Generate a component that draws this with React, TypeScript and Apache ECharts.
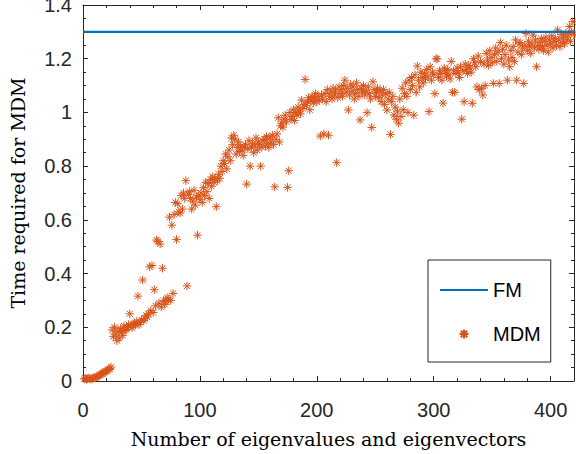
import React, { useEffect, useRef } from "react";
import * as echarts from "echarts";

const xTicks = [0, 100, 200, 300, 400];
const fmLevel = 1.3;
const fmRange = [0, 420];

// MDM timing, one value per number of eigenpairs (1..420)
const mdmTimes: number[] = [
  0.008, 0.010, 0.006, 0.009, 0.011, 0.007, 0.010, 0.008, 0.012, 0.011,
  0.014, 0.016, 0.019, 0.021, 0.024, 0.027, 0.029, 0.032, 0.035, 0.037,
  0.040, 0.043, 0.046, 0.052, 0.190, 0.165, 0.200, 0.175, 0.150, 0.185,
  0.160, 0.195, 0.180, 0.170, 0.205, 0.188, 0.192, 0.200, 0.210, 0.250,
  0.205, 0.198, 0.212, 0.215, 0.208, 0.222, 0.316, 0.210, 0.218, 0.228,
  0.376, 0.225, 0.232, 0.245, 0.238, 0.250, 0.425, 0.262, 0.430, 0.255,
  0.340, 0.280, 0.525, 0.520, 0.290, 0.510, 0.275, 0.420, 0.300, 0.285,
  0.295, 0.310, 0.305, 0.610, 0.300, 0.580, 0.326, 0.620, 0.665, 0.527,
  0.660, 0.630, 0.625, 0.690, 0.640, 0.700, 0.680, 0.746, 0.354, 0.695,
  0.705, 0.680, 0.640, 0.670, 0.710, 0.655, 0.685, 0.543, 0.690, 0.675,
  0.700, 0.665, 0.720, 0.690, 0.740, 0.705, 0.735, 0.680, 0.750, 0.725,
  0.760, 0.740, 0.755, 0.649, 0.745, 0.770, 0.755, 0.800, 0.780, 0.820,
  0.810, 0.845, 0.790, 0.835, 0.860, 0.820, 0.905, 0.880, 0.915, 0.900,
  0.845, 0.870, 0.890, 0.855, 0.875, 0.860, 0.840, 0.870, 0.880, 0.733,
  0.865, 0.895, 0.800, 0.870, 0.885, 0.850, 0.875, 0.905, 0.860, 0.890,
  0.880, 0.800, 0.870, 0.895, 0.900, 0.875, 0.910, 0.885, 0.870, 0.905,
  0.890, 0.915, 0.880, 0.723, 0.900, 0.920, 0.980, 0.890, 0.950, 0.960,
  0.945, 0.975, 0.990, 0.965, 0.721, 0.783, 1.000, 0.975, 0.985, 1.010,
  0.970, 1.000, 0.990, 1.020, 1.005, 0.995, 1.046, 1.015, 1.030, 1.123,
  1.025, 1.040, 1.055, 1.010, 1.045, 1.060, 1.035, 1.050, 1.070, 1.040,
  1.060, 1.045, 0.912, 1.065, 1.050, 0.920, 1.070, 1.040, 1.085, 0.915,
  1.060, 1.075, 1.050, 1.090, 1.065, 1.080, 0.813, 1.055, 1.095, 1.070,
  1.085, 1.060, 1.100, 1.120, 1.075, 1.090, 1.009, 1.065, 1.105, 1.080,
  1.095, 1.050, 1.070, 1.110, 1.085, 1.060, 0.972, 1.090, 1.075, 1.100,
  1.065, 1.080, 0.999, 1.095, 1.070, 1.050, 0.944, 1.114, 1.085, 1.060,
  1.075, 1.090, 1.055, 1.080, 1.040, 1.065, 1.085, 1.030, 1.070, 1.009,
  1.050, 1.075, 0.918, 1.040, 1.060, 0.990, 1.020, 0.975, 1.005, 0.960,
  1.050, 0.985, 1.090, 1.010, 1.070, 1.110, 1.060, 1.000, 1.120, 1.085,
  1.130, 1.100, 0.990, 1.140, 1.075, 1.173, 1.120, 1.095, 1.150, 1.130,
  1.110, 1.145, 1.125, 1.160, 1.135, 1.003, 1.170, 1.120, 1.150, 1.140,
  1.070, 1.200, 1.199, 1.130, 1.155, 1.145, 1.120, 1.035, 1.165, 1.150,
  1.135, 1.160, 1.140, 1.125, 1.190, 1.075, 1.155, 1.075, 1.145, 1.165,
  1.150, 1.130, 1.170, 0.975, 1.155, 1.040, 1.180, 1.160, 1.145, 1.175,
  1.165, 1.150, 1.034, 1.200, 1.185, 1.170, 1.095, 1.210, 1.085, 1.190,
  1.090, 1.065, 1.180, 1.100, 1.220, 1.195, 1.175, 1.230, 1.205, 1.185,
  1.108, 1.215, 1.240, 1.190, 1.225, 1.108, 1.260, 1.200, 1.235, 1.180,
  1.215, 1.250, 1.120, 1.195, 1.170, 1.230, 1.205, 1.245, 1.190, 1.270,
  1.120, 1.225, 1.255, 1.260, 1.215, 1.240, 1.108, 1.250, 1.294, 1.230,
  1.265, 1.245, 1.220, 1.255, 1.288, 1.240, 1.270, 1.170, 1.250, 1.235,
  1.260, 1.275, 1.245, 1.230, 1.265, 1.280, 1.250, 1.225, 1.270, 1.255,
  1.285, 1.240, 1.265, 1.275, 1.250, 1.307, 1.270, 1.245, 1.290, 1.260,
  1.280, 1.255, 1.295, 1.270, 1.285, 1.320, 1.265, 1.300, 1.338, 1.290,
];

const ASTERISK = "path://M0,-10L0,10M-10,0L10,0M-7.07,-7.07L7.07,7.07M-7.07,7.07L7.07,-7.07";
const AXIS_COLOR = "#262626";
const SANS = "'Liberation Sans', Arial, Helvetica, sans-serif";
const SERIF = "'DejaVu Serif', 'Liberation Serif', serif";

export default function App() {
  const ref = useRef<HTMLDivElement>(null);
  useEffect(() => {
    if (!ref.current) return;
    const chart = echarts.init(ref.current, undefined, { renderer: "svg" });
    const mdmData = mdmTimes.map((v, i) => [i + 1, v]);
    const baseAxis = {
      axisLine: { show: true, onZero: false, lineStyle: { color: AXIS_COLOR, width: 1 } },
      axisTick: { show: true, inside: true, length: 5, lineStyle: { color: AXIS_COLOR } },
      minorTick: { show: true, length: 3, lineStyle: { color: AXIS_COLOR } },
      splitLine: { show: false },
    };
    chart.setOption({
      animation: false,
      backgroundColor: "#ffffff",
      grid: {
        left: 83,
        top: 5,
        right: 2,
        bottom: 73,
        containLabel: false,
        outerBoundsMode: "none",
      },
      legend: {
        orient: "vertical",
        left: 428,
        top: 260,
        padding: [20, 10, 18, 11],
        itemWidth: 48,
        itemHeight: 9,
        itemGap: 24,
        borderColor: AXIS_COLOR,
        borderWidth: 1,
        borderRadius: 0,
        backgroundColor: "#ffffff",
        textStyle: { fontFamily: SANS, fontSize: 20, lineHeight: 20, color: "#000000" },
        data: [
          { name: "FM", itemStyle: { opacity: 0 } },
          { name: "MDM" },
        ],
      },
      xAxis: [
        {
          ...baseAxis,
          type: "value",
          position: "bottom",
          min: 0,
          max: 420,
          interval: xTicks[1] - xTicks[0],
          minorTick: { ...baseAxis.minorTick, splitNumber: 5 },
          axisLabel: {
            show: true,
            margin: 19,
            showMaxLabel: false,
            fontFamily: SANS,
            fontSize: 20,
            color: AXIS_COLOR,
          },
          name: "Number of eigenvalues and eigenvectors",
          nameLocation: "middle",
          nameGap: 48,
          nameTextStyle: { fontFamily: SERIF, fontSize: 19, color: "#000000" },
        },
        {
          ...baseAxis,
          type: "value",
          position: "top",
          min: 0,
          max: 420,
          interval: 100,
          minorTick: { ...baseAxis.minorTick, splitNumber: 5 },
          axisLabel: { show: false },
        },
      ],
      yAxis: [
        {
          ...baseAxis,
          type: "value",
          position: "left",
          min: 0,
          max: 1.4,
          interval: 0.2,
          minorTick: { ...baseAxis.minorTick, splitNumber: 4 },
          axisLabel: {
            show: true,
            margin: 11,
            fontFamily: SANS,
            fontSize: 20,
            color: AXIS_COLOR,
          },
          name: "Time required for MDM",
          nameLocation: "middle",
          nameGap: 56,
          nameTextStyle: { fontFamily: SERIF, fontSize: 19, color: "#000000" },
        },
        {
          ...baseAxis,
          type: "value",
          position: "right",
          min: 0,
          max: 1.4,
          interval: 0.2,
          minorTick: { ...baseAxis.minorTick, splitNumber: 4 },
          axisLabel: { show: false },
        },
      ],
      series: [
        {
          name: "FM",
          type: "line",
          xAxisIndex: 0,
          yAxisIndex: 0,
          symbol: "none",
          showSymbol: false,
          data: [
            [fmRange[0], fmLevel],
            [fmRange[1], fmLevel],
          ],
          lineStyle: { color: "#0072BD", width: 2.2 },
          itemStyle: { color: "#0072BD" },
          z: 3,
        },
        {
          name: "MDM",
          type: "scatter",
          xAxisIndex: 0,
          yAxisIndex: 0,
          symbol: ASTERISK,
          symbolSize: 8.5,
          symbolKeepAspect: true,
          data: mdmData,
          itemStyle: {
            color: "rgba(0,0,0,0)",
            borderColor: "#D95319",
            borderWidth: 1,
            opacity: 1,
          },
          z: 2,
        },
      ],
    });
    return () => chart.dispose();
  }, []);
  return <div ref={ref} style={{ width: 576, height: 454, position: "absolute", left: 0, top: 0 }} />;
}
